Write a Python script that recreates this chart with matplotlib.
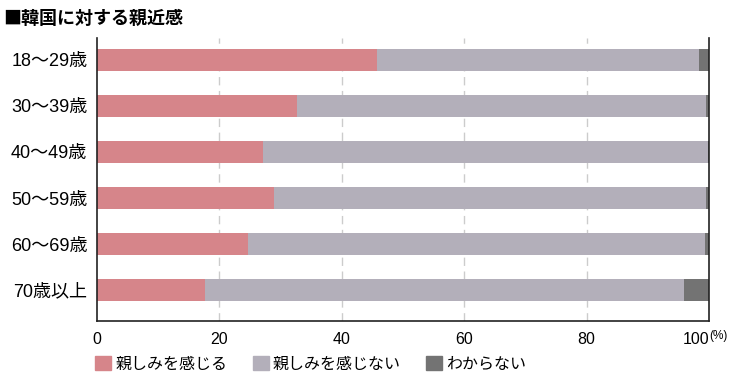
import numpy as np
import matplotlib
matplotlib.use('Agg')
from matplotlib import pyplot as plt
from matplotlib.patches import Patch

plt.rcParams['font.family'] = ['Liberation Sans', 'Noto Sans CJK JP', 'DejaVu Sans']

ages = ['18～29歳', '30～39歳', '40～49歳', '50～59歳', '60～69歳', '70歳以上']
feel_close = [45.8, 32.6, 27.2, 29.0, 24.7, 17.6]
not_close = [52.6, 66.9, 72.6, 70.5, 74.6, 78.3]
dont_know = [1.6, 0.5, 0.2, 0.5, 0.7, 4.1]
series_names = ['親しみを感じる', '親しみを感じない', 'わからない']
colors = ['#d6858a', '#b3afba', '#737373']
xticks = [0, 20, 40, 60, 80, 100]

fig = plt.figure(figsize=(7.33, 3.78), dpi=100)
ax = fig.add_axes([0.1323, 0.151, 0.835, 0.749])

y = np.arange(len(ages))
left = np.zeros(len(ages))
for vals, c in zip([feel_close, not_close, dont_know], colors):
    ax.barh(y, vals, left=left, height=0.48, color=c, zorder=2)
    left += np.array(vals)

ax.set_xlim(0, 100)
ax.set_ylim(5.67, -0.48)
ax.set_yticks(y)
ax.set_yticklabels(ages, fontsize=13)
ax.set_xticks(xticks)
ax.set_xticklabels([str(t) for t in xticks], fontsize=11.5)
ax.get_xticklabels()[-1].set_horizontalalignment('right')
ax.tick_params(length=0, pad=8)
ax.tick_params(axis='y', pad=7)
for t in [20, 40, 60, 80]:
    ax.axvline(t, color='#cccccc', lw=1, ls=(0, (6, 4)), zorder=1)
ax.spines['top'].set_visible(False)
for s in ['left', 'right', 'bottom']:
    ax.spines[s].set_color('#222222')
    ax.spines[s].set_linewidth(1.2)

fig.text(0.967, 0.11, '(%)', fontsize=8.5, va='center')
fig.text(0.005, 0.952, '■韓国に対する親近感', fontsize=13, fontweight='bold', va='center',
         family=['Noto Sans CJK JP', 'DejaVu Sans'])

handles = [Patch(color=c, label=n) for c, n in zip(colors, series_names)]
fig.legend(handles=handles, loc='center left', bbox_to_anchor=(0.119, 0.037), ncol=3,
           frameon=False, handlelength=1.0, handleheight=0.9,
           handletextpad=0.25, columnspacing=1.6, borderpad=0,
           prop={'family': ['Noto Sans CJK JP', 'DejaVu Sans'], 'size': 11.5})

fig.savefig('out.png', dpi=100)
